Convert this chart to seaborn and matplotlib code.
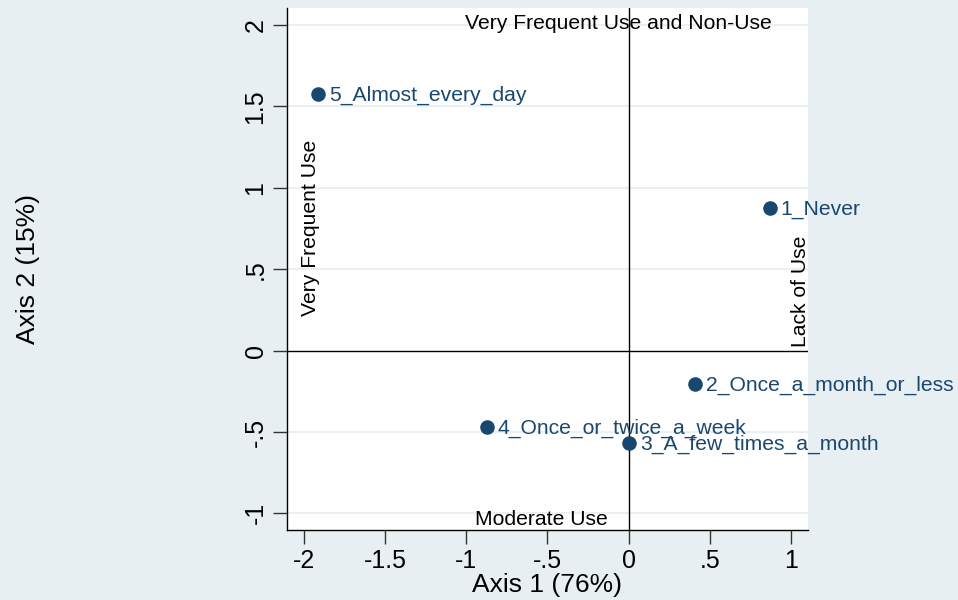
import pandas as pd
import seaborn as sns
import matplotlib.pyplot as plt

# Correspondence analysis coordinates
categories = ["1_Never", "2_Once_a_month_or_less", "3_A_few_times_a_month",
              "4_Once_or_twice_a_week", "5_Almost_every_day"]
axis1 = [0.868, 0.406, 0.000, -0.874, -1.914]
axis2 = [0.873, -0.203, -0.565, -0.467, 1.573]

xticks = [-2, -1.5, -1, -0.5, 0, 0.5, 1]
xtick_labels = ["-2", "-1.5", "-1", "-.5", "0", ".5", "1"]
yticks = [-1, -0.5, 0, 0.5, 1, 1.5, 2]
ytick_labels = ["-1", "-.5", "0", ".5", "1", "1.5", "2"]

df = pd.DataFrame({"category": categories, "axis1": axis1, "axis2": axis2})

navy = "#1a476f"
bg = "#e8eff2"

sns.set_style("white")
plt.rcParams["font.family"] = ["Liberation Sans", "DejaVu Sans"]
plt.rcParams["text.color"] = "black"

fig = plt.figure(figsize=(9.58, 6.0), dpi=100, facecolor=bg)
ax = fig.add_axes([0.2996, 0.1167, 0.8434 - 0.2996, 0.9867 - 0.1167])
ax.set_facecolor("white")

# gridlines at y ticks
for yv in yticks:
    if yv != 0:
        ax.axhline(yv, color="#e8f0f2", lw=1.4, zorder=0)

# reference lines at the origin
ax.axhline(0, color="black", lw=1.0, zorder=1)
ax.axvline(0, color="black", lw=1.0, zorder=1)

sns.scatterplot(data=df, x="axis1", y="axis2", color=navy, s=110,
                edgecolor=navy, linewidth=0, ax=ax, zorder=3)

for _, r in df.iterrows():
    ax.annotate(r["category"], (r["axis1"], r["axis2"]), xytext=(8, -1),
                textcoords="offset points", va="center", ha="left",
                color=navy, fontsize=15.2, zorder=4, annotation_clip=False)

# quadrant annotations
fs = 15.2
ax.text(-0.065, 2.01, "Very Frequent Use and Non-Use", ha="center", va="center", fontsize=fs)
ax.text(-0.54, -1.04, "Moderate Use", ha="center", va="center", fontsize=fs)
ax.text(-1.963, 0.756, "Very Frequent Use", rotation=90, ha="center", va="center", fontsize=fs)
ax.text(1.058, 0.363, "Lack of Use", rotation=90, ha="center", va="center", fontsize=fs)

ax.set_xlim(-2.105, 1.105)
ax.set_ylim(-1.102, 2.104)
ax.set_xticks(xticks)
ax.set_xticklabels(xtick_labels, fontsize=18, color="black")
ax.set_yticks(yticks)
ax.set_yticklabels(ytick_labels, fontsize=18, rotation=90, va="center", color="black")
ax.tick_params(axis="both", direction="out", length=10, width=1.0, color="#333333",
               pad=4, bottom=True, left=True)

ax.set_xlabel("Axis 1 (76%)", fontsize=19, labelpad=0, color="black")
ax.set_ylabel("Axis 2 (15%)", fontsize=19, color="black")
ax.yaxis.set_label_coords(-0.475, 0.5)

for side in ["top", "right"]:
    ax.spines[side].set_visible(False)
for side in ["left", "bottom"]:
    ax.spines[side].set_color("black")
    ax.spines[side].set_linewidth(1.0)

plt.savefig("out.png", dpi=100, facecolor=bg)
